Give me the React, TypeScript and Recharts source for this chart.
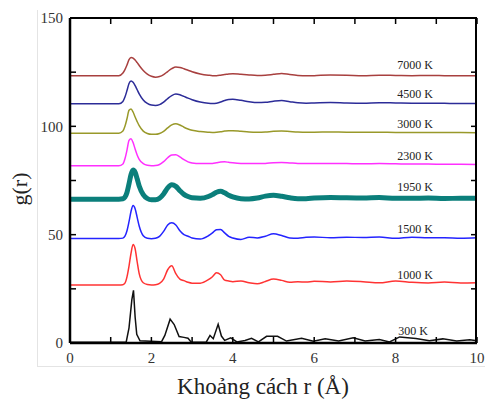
import { LineChart, Line, XAxis, YAxis, ReferenceDot, Label } from "recharts";

// r grid (Å) shared by the smooth curves
const R = [
  0, 1.2, 1.3, 1.35, 1.4, 1.45, 1.5, 1.55, 1.6, 1.65, 1.7, 1.8, 1.9, 2.0, 2.1,
  2.2, 2.3, 2.4, 2.5, 2.6, 2.7, 2.8, 2.9, 3.0, 3.2, 3.4, 3.5, 3.6, 3.7, 3.8,
  3.9, 4.0, 4.2, 4.4, 4.6, 4.8, 5.0, 5.2, 5.4, 5.6, 5.8, 6.0, 6.4, 6.8, 7.2,
  7.6, 8.0, 8.4, 8.8, 9.2, 9.6, 10,
];

const G_7000 = [
  123.4, 123.4, 124.6, 126.2, 128.3, 130.8, 131.8, 131.5, 130.6, 129.4, 128.1,
  125.8, 124.1, 123.1, 122.7, 123.0, 123.9, 125.3, 126.6, 127.4, 127.2, 126.6,
  125.9, 125.2, 124.2, 123.6, 123.4, 123.4, 123.6, 123.9, 124.2, 124.3, 124.0,
  123.7, 123.5, 123.6, 124.0, 124.4, 123.9, 123.5, 123.3, 123.4, 123.7, 123.6,
  123.4, 123.6, 123.5, 123.4, 123.5, 123.4, 123.3, 123.3,
];

const G_4500 = [
  110.4, 110.4, 111.5, 113.5, 116.5, 119.8, 120.9, 120.3, 118.8, 116.9, 115.0,
  112.2, 110.6, 109.8, 109.6, 110.0, 111.2, 112.8, 114.2, 114.9, 114.6, 113.8,
  113.0, 112.3, 111.2, 110.6, 110.5, 110.7, 111.2, 111.9, 112.4, 112.5, 112.0,
  111.4, 111.0, 111.1, 111.6, 111.9, 111.4, 110.9, 110.7, 110.8, 111.0, 110.8,
  110.7, 110.9, 110.8, 110.7, 110.7, 110.6, 110.5, 110.5,
];

const G_3000 = [
  96.8, 96.8, 97.8, 100.0, 103.5, 107.4, 108.0, 106.6, 104.3, 102.2, 100.3,
  97.8, 96.7, 96.3, 96.3, 96.7, 97.7, 99.3, 100.7, 101.2, 100.6, 99.6, 98.8,
  98.2, 97.6, 97.3, 97.2, 97.3, 97.5, 97.8, 98.0, 98.0, 97.7, 97.4, 97.3, 97.4,
  97.7, 97.8, 97.6, 97.4, 97.3, 97.3, 97.4, 97.3, 97.3, 97.3, 97.2, 97.2, 97.2,
  97.1, 97.1, 97.0,
];

const G_2300 = [
  81.8, 81.8, 82.6, 85.0, 89.0, 93.5, 94.3, 92.5, 89.5, 86.8, 84.8, 82.8, 82.0,
  81.8, 81.9, 82.4, 83.7, 85.5, 86.8, 86.9, 85.9, 84.6, 83.6, 83.1, 82.8, 82.8,
  82.9, 83.2, 83.5, 83.6, 83.4, 83.2, 82.9, 82.8, 82.8, 82.9, 83.2, 83.3, 83.1,
  82.9, 82.8, 82.8, 82.9, 82.8, 82.7, 82.8, 82.7, 82.6, 82.6, 82.5, 82.5, 82.4,
];

const G_1950 = [
  66.4, 66.4, 66.6, 67.3, 69.5, 73.5, 77.8, 79.8, 78.8, 75.8, 72.5, 68.5, 66.7,
  66.1, 66.1, 66.8, 68.8, 71.6, 73.0, 72.3, 70.3, 68.6, 67.6, 67.0, 66.8, 67.6,
  68.5, 69.6, 70.0, 69.3, 68.2, 67.4, 66.6, 66.5, 66.9, 67.8, 68.2, 67.7, 67.0,
  66.6, 66.6, 66.9, 67.2, 67.0, 66.9, 67.1, 66.8, 66.8, 66.9, 66.7, 66.8, 66.8,
];

const G_1500 = [
  48.2, 48.2, 48.4, 49.3, 51.8, 56.0, 60.8, 63.5, 62.0, 58.0, 54.0, 49.5, 48.3,
  48.1, 48.3, 49.2, 51.5, 54.5, 55.5, 54.5, 51.8, 50.0, 49.3, 48.5, 48.0, 49.5,
  50.8, 52.3, 52.4, 50.8, 49.2, 48.5, 47.8, 48.8, 48.5, 49.3, 50.4, 49.6, 48.5,
  48.4, 48.8, 48.9, 48.6, 48.8, 48.7, 48.9, 48.3, 48.8, 48.6, 48.6, 48.4, 48.6,
];

const G_1000 = [
  26.8, 26.8, 26.9, 27.6, 30.5, 35.5, 41.5, 45.5, 43.5, 37.5, 32.0, 27.8, 27.0,
  26.8, 26.9, 27.5, 29.5, 33.8, 35.6, 32.0, 29.5, 28.8, 28.0, 27.6, 27.6, 29.2,
  30.6, 32.4, 31.5, 29.0, 28.6, 28.3, 28.6, 27.8, 27.3, 28.4, 29.5, 28.9, 28.0,
  28.3, 28.1, 28.5, 28.2, 28.6, 28.3, 27.8, 28.6, 28.0, 27.7, 28.1, 27.7, 27.8,
];

// 300 K is spiky, so it has its own r points
const R_300 = [
  0, 1.38, 1.45, 1.52, 1.56, 1.6, 1.64, 1.72, 2.25, 2.33, 2.46, 2.56, 2.68, 2.8,
  2.9, 2.98, 3.35, 3.44, 3.52, 3.64, 3.72, 3.8, 3.95, 4.1, 4.3, 4.46, 4.63, 4.83,
  5.1, 5.32, 5.69, 5.98, 6.27, 6.6, 6.96, 7.25, 7.6, 7.85, 8.1, 8.5, 8.83, 9.16,
  9.5, 9.82, 10,
];
const G_300 = [
  0.3, 0.4, 7, 20, 24.3, 12, 4, 1.0, 0.6, 3.5, 11, 8.5, 3.0, 2.6, 2.2, 0.4, 0.5,
  3.5, 2.0, 8.6, 3.2, 1.2, 2.4, 0.5, 1.2, 2.2, 0.5, 3.1, 3.1, 0.9, 2.2, 0.8,
  2.0, 0.9, 2.4, 0.9, 1.6, 0.5, 2.8, 2.1, 1.0, 1.9, 0.9, 1.5, 1.0,
];

const X_TICKS = [0, 1, 2, 3, 4, 5, 6, 7, 8, 9, 10];
const Y_TICKS = [0, 25, 50, 75, 100, 125, 150];

const SERIES = [
  { name: "7000 K", r: R, g: G_7000 },
  { name: "4500 K", r: R, g: G_4500 },
  { name: "3000 K", r: R, g: G_3000 },
  { name: "2300 K", r: R, g: G_2300 },
  { name: "1950 K", r: R, g: G_1950 },
  { name: "1500 K", r: R, g: G_1500 },
  { name: "1000 K", r: R, g: G_1000 },
  { name: "300 K", r: R_300, g: G_300 },
];

const STYLE: Record<string, { color: string; width: number; curve: "monotone" | "linear" }> = {
  "7000 K": { color: "#a8403f", width: 1.5, curve: "monotone" },
  "4500 K": { color: "#2c2c98", width: 1.5, curve: "monotone" },
  "3000 K": { color: "#99992a", width: 1.5, curve: "monotone" },
  "2300 K": { color: "#ff30ff", width: 1.5, curve: "monotone" },
  "1950 K": { color: "#0b7f7b", width: 5, curve: "monotone" },
  "1500 K": { color: "#2424ff", width: 1.5, curve: "monotone" },
  "1000 K": { color: "#ff3333", width: 1.5, curve: "monotone" },
  "300 K": { color: "#111111", width: 1.5, curve: "linear" },
};

// where each curve's name sits, in data units [r, g]
const LABEL_AT: Record<string, [number, number]> = {
  "7000 K": [8.48, 128.6],
  "4500 K": [8.48, 115.2],
  "3000 K": [8.48, 101.1],
  "2300 K": [8.48, 86.4],
  "1950 K": [8.48, 72.1],
  "1500 K": [8.48, 52.9],
  "1000 K": [8.48, 31.4],
  "300 K": [8.43, 5.5],
};

const W = 485;
const H = 401;
const PLOT = { left: 70, right: 477, top: 18, bottom: 343 };
const X_MAX = 10;
const Y_MAX = 150;
const TICK_LEN = 6;

const FONT = '"Liberation Serif", "Times New Roman", serif';
const AXIS = { stroke: "#000", strokeWidth: 2.5 };
const TICK_TEXT = { fill: "#333", fontSize: 15, fontFamily: FONT };

// inward tick marks on all four sides
function Ticks() {
  const px = (v: number) => PLOT.left + (v / X_MAX) * (PLOT.right - PLOT.left);
  const py = (v: number) => PLOT.bottom - (v / Y_MAX) * (PLOT.bottom - PLOT.top);
  return (
    <svg
      width={W}
      height={H}
      style={{ position: "absolute", left: 0, top: 0, zIndex: 10, pointerEvents: "none" }}
    >
      <g stroke="#000" strokeWidth={1.5}>
        {X_TICKS.map((v) => (
          <g key={`x${v}`}>
            <line x1={px(v)} x2={px(v)} y1={PLOT.bottom} y2={PLOT.bottom - TICK_LEN} />
            <line x1={px(v)} x2={px(v)} y1={PLOT.top} y2={PLOT.top + TICK_LEN} />
          </g>
        ))}
        {Y_TICKS.map((v) => (
          <g key={`y${v}`}>
            <line x1={PLOT.left} x2={PLOT.left + TICK_LEN} y1={py(v)} y2={py(v)} />
            <line x1={PLOT.right} x2={PLOT.right - TICK_LEN} y1={py(v)} y2={py(v)} />
          </g>
        ))}
      </g>
    </svg>
  );
}

export default function App() {
  return (
    <div style={{ position: "absolute", left: 0, top: 0, width: W, height: H, background: "#fff" }}>
      <div
        style={{
          position: "absolute",
          left: 37,
          top: 10,
          width: W - 37,
          height: 356,
          borderLeft: "1px solid #e4e4e4",
          borderBottom: "1px solid #e4e4e4",
        }}
      />
      <div style={{ position: "absolute", left: 0, top: 0, zIndex: 1 }}>
        <LineChart width={W} height={H} margin={{ top: PLOT.top, right: W - PLOT.right, bottom: 0, left: 0 }}>
          <XAxis
            dataKey="r"
            type="number"
            domain={[0, X_MAX]}
            ticks={X_TICKS}
            height={H - PLOT.bottom}
            axisLine={AXIS}
            tickLine={false}
            tickSize={0}
            tickMargin={9}
            tick={TICK_TEXT}
            tickFormatter={(v: number) => (v % 2 === 0 ? String(v) : "")}
            interval={0}
          >
            <Label
              content={() => (
                <text x={263} y={394} textAnchor="middle" fontSize={23} fontFamily={FONT} fill="#222">
                  Khoảng cách r (Å)
                </text>
              )}
            />
          </XAxis>
          <YAxis
            type="number"
            domain={[0, Y_MAX]}
            ticks={Y_TICKS}
            width={PLOT.left}
            axisLine={AXIS}
            tickLine={false}
            tickSize={0}
            tickMargin={7}
            tick={TICK_TEXT}
            tickFormatter={(v: number) => (v % 50 === 0 ? String(v) : "")}
            interval={0}
          >
            <Label
              content={() => (
                <text
                  x={19}
                  y={189}
                  transform="rotate(-90 19 189)"
                  textAnchor="middle"
                  dominantBaseline="central"
                  fontSize={22}
                  fontFamily={FONT}
                  fill="#222"
                >
                  g(r)
                </text>
              )}
            />
          </YAxis>
          {SERIES.map((s) => (
            <Line
              key={s.name}
              data={s.r.map((r, i) => ({ r, g: s.g[i] }))}
              dataKey="g"
              type={STYLE[s.name].curve}
              stroke={STYLE[s.name].color}
              strokeWidth={STYLE[s.name].width}
              dot={false}
              activeDot={false}
              isAnimationActive={false}
            />
          ))}
          {SERIES.map((s) => (
            <ReferenceDot
              key={`lbl-${s.name}`}
              x={LABEL_AT[s.name][0]}
              y={LABEL_AT[s.name][1]}
              r={0}
              fill="none"
              stroke="none"
              label={{ value: s.name, position: "center", fill: "#222", fontSize: 12, fontFamily: FONT }}
            />
          ))}
        </LineChart>
      </div>
      {/* top and right edges of the plot box */}
      <div
        style={{
          position: "absolute",
          left: PLOT.left,
          top: PLOT.top - 1,
          width: PLOT.right - PLOT.left,
          height: PLOT.bottom - PLOT.top + 1,
          borderTop: "2px solid #000",
          borderRight: "2px solid #000",
          boxSizing: "border-box",
          zIndex: 10,
          pointerEvents: "none",
        }}
      />
      <Ticks />
    </div>
  );
}
